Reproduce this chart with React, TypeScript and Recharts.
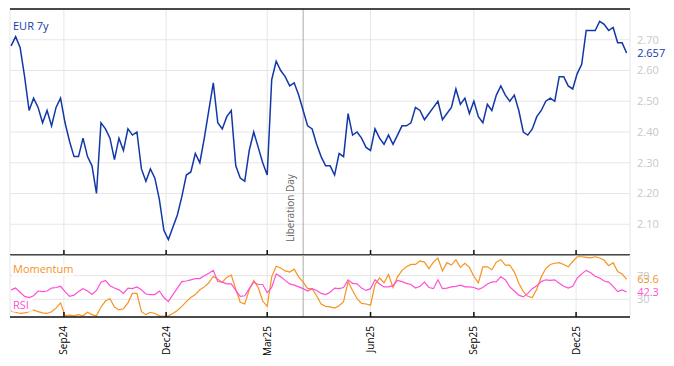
import React from "react"
import { LineChart, Line, XAxis, YAxis, CartesianGrid, ReferenceLine, ReferenceDot } from "recharts"

const FONT = '"Open Sans", sans-serif'
const BLUE = "#1238a8"
const ORANGE = "#f7931e"
const PINK = "#ff4fd8"
const GRID = "#e6e6e6"
const TICK_GREY = "#c8c8c8"
const FRAME = "#101010"
const FRAME_W = 1.5

// dates
const startDate = "2024-07-15"
const endDate = "2026-01-18"
const firstDay = 1
const stepDays = 4
const monthTickDates = ["2024-09-01", "2024-12-01", "2025-03-01", "2025-06-01", "2025-09-01", "2025-12-01"]
const monthLabels = ["Sep24", "Dec24", "Mar25", "Jun25", "Sep25", "Dec25"]
const eventDate = "2025-04-02"
const eventLabel = "Liberation Day"

// EUR 7y swap rate, one point every 4 days
const eur7y = [
  2.68, 2.71, 2.675, 2.58, 2.47, 2.51, 2.48, 2.43, 2.47, 2.42,
  2.48, 2.51, 2.43, 2.37, 2.32, 2.32, 2.38, 2.32, 2.29, 2.2,
  2.43, 2.41, 2.38, 2.31, 2.38, 2.34, 2.41, 2.39, 2.4, 2.28,
  2.24, 2.28, 2.25, 2.18, 2.08, 2.05, 2.09, 2.13, 2.19, 2.26,
  2.27, 2.33, 2.3, 2.38, 2.47, 2.56, 2.43, 2.41, 2.45, 2.47,
  2.29, 2.25, 2.24, 2.34, 2.4, 2.35, 2.3, 2.26, 2.57, 2.63,
  2.6, 2.58, 2.55, 2.56, 2.52, 2.47, 2.42, 2.41, 2.36, 2.32,
  2.29, 2.29, 2.26, 2.33, 2.32, 2.46, 2.39, 2.4, 2.38, 2.35,
  2.34, 2.41, 2.38, 2.36, 2.39, 2.36, 2.39, 2.42, 2.42, 2.43,
  2.48, 2.47, 2.44, 2.46, 2.48, 2.5, 2.44, 2.46, 2.48, 2.54,
  2.49, 2.51, 2.46, 2.5, 2.45, 2.43, 2.49, 2.47, 2.52, 2.55,
  2.52, 2.5, 2.52, 2.47, 2.4, 2.39, 2.41, 2.45, 2.47, 2.5,
  2.51, 2.5, 2.58, 2.58, 2.55, 2.54, 2.59, 2.62, 2.73, 2.73,
  2.73, 2.76, 2.75, 2.73, 2.74, 2.69, 2.69, 2.657,
]

const momentum = [
  10, 8, 6, 7, 9, 12, 9, 7, 6, 9,
  15, 24, 2, 3, 2, 4, 2, 8, 4, 2,
  17, 27, 31, 17, 12, 14, 24, 40, 40, 9,
  4, 8, 6, 2, 1, 2, 6, 11, 18, 26,
  33, 38, 46, 51, 58, 69, 64, 59, 67, 71,
  47, 25, 22, 46, 62, 50, 27, 18, 68, 86,
  83, 78, 76, 81, 68, 59, 48, 48, 36, 22,
  18, 17, 15, 19, 26, 60, 45, 31, 23, 22,
  20, 55, 66, 58, 72, 50, 68, 79, 85, 89,
  89, 95, 93, 82, 93, 100, 78, 92, 88, 97,
  84, 91, 84, 69, 58, 85, 85, 80, 93, 97,
  88, 88, 76, 57, 43, 35, 33, 47, 68, 82,
  89, 91, 92, 89, 85, 94, 102, 102, 101, 100,
  102, 100, 96, 87, 92, 77, 73, 63.6,
]

const rsi = [
  46, 49, 42, 35, 33, 36, 44, 43, 44, 49,
  50, 52, 43, 35, 37, 43, 48, 44, 38, 45,
  59, 62, 53, 49, 46, 40, 49, 48, 51, 46,
  39, 38, 38, 44, 33, 26, 38, 49, 60, 61,
  63, 65, 65, 70, 74, 79, 60, 59, 56, 56,
  45, 35, 36, 48, 59, 55, 55, 41, 50, 73,
  68, 62, 56, 54, 51, 48, 44, 48, 45, 40,
  38, 42, 49, 48, 50, 63, 57, 56, 49, 45,
  48, 63, 56, 51, 51, 53, 62, 60, 57, 55,
  49, 52, 59, 50, 48, 63, 48, 49, 51, 52,
  54, 51, 51, 50, 47, 50, 56, 59, 60, 68,
  63, 51, 44, 37, 34, 40, 48, 53, 60, 63,
  62, 63, 57, 52, 49, 52, 66, 73, 79, 75,
  69, 66, 61, 59, 52, 43, 46, 42.3,
]

const rateTicks = [2.1, 2.2, 2.3, 2.4, 2.5, 2.6, 2.7]
const oscTicks = [30, 70]

const dayOf = (d: string) => Math.round((Date.parse(d) - Date.parse(startDate)) / 86400000)
const monthTicks = monthTickDates.map(dayOf)
const eventDay = dayOf(eventDate)
const lastDay = dayOf(endDate)

const data = eur7y.map((v, i) => ({
  t: firstDay + stepDays * i,
  eur: v,
  mom: momentum[i],
  rsi: rsi[i],
}))
const last = data[data.length - 1]

const W = 658
const PLOT_LEFT = 2

// small tick marks pointing up into the panel
function TopTick({ x, y }: any) {
  return <line x1={x} x2={x} y1={y} y2={y - 5} stroke={FRAME} strokeWidth={FRAME_W} />
}

// empty tick, the frame axis only needs its line
function NoTick() {
  return <g />
}

function BottomTick({ x, y, payload }: any) {
  const label = monthLabels[monthTicks.indexOf(payload.value)]
  const ty = y + 9
  return (
    <g>
      <line x1={x} x2={x} y1={y} y2={y - 5} stroke={FRAME} strokeWidth={FRAME_W} />
      <text
        x={x}
        y={ty}
        dy="0.35em"
        transform={`rotate(-90 ${x} ${ty})`}
        textAnchor="end"
        fontSize={10}
        fontFamily={FONT}
        fill="#000"
      >
        {label}
      </text>
    </g>
  )
}

function EventLabel({ viewBox }: any) {
  const x = viewBox.x - 9
  const y = viewBox.y + viewBox.height - 13
  return (
    <text x={x} y={y} transform={`rotate(-90 ${x} ${y})`} fontSize={10} fontFamily={FONT} fill="#666">
      {eventLabel}
    </text>
  )
}

function ValueTag({ viewBox, text, color }: any) {
  const x = viewBox.x + viewBox.width + 10.5
  const y = viewBox.y + viewBox.height / 2
  return (
    <g>
      <rect x={x - 1} y={y - 6} width={text.length * 6.3 + 2} height={12} fill="#fff" fillOpacity={0.8} />
      <text x={x} y={y} dy="0.35em" fontSize={11} fontFamily={FONT} fill={color}>
        {text}
      </text>
    </g>
  )
}

export default function App() {
  return (
    <div style={{ position: "relative", width: W, height: 356, fontFamily: FONT }}>
      <div style={{ position: "absolute", left: 0, top: 0 }}>
        <LineChart width={W} height={248} data={data} margin={{ top: 0, right: 0, bottom: 0, left: PLOT_LEFT }}>
          <CartesianGrid stroke={GRID} />
          <XAxis
            dataKey="t"
            type="number"
            domain={[0, lastDay]}
            ticks={monthTicks}
            interval={0}
            height={1}
            tickSize={0}
            tickMargin={0}
            tick={<TopTick />}
            axisLine={{ stroke: FRAME, strokeWidth: FRAME_W }}
            allowDataOverflow
          />
          <XAxis
            xAxisId="frame"
            orientation="top"
            dataKey="t"
            type="number"
            domain={[0, lastDay]}
            ticks={monthTicks}
            interval={0}
            height={1}
            tickSize={0}
            tickMargin={0}
            tick={<NoTick />}
            axisLine={{ stroke: FRAME, strokeWidth: FRAME_W }}
            allowDataOverflow
          />
          <YAxis
            orientation="right"
            width={36}
            domain={[2.0, 2.8]}
            ticks={rateTicks}
            tickFormatter={(v: number) => v.toFixed(2)}
            tick={{ fill: TICK_GREY, fontSize: 11, fontFamily: FONT }}
            tickLine={false}
            axisLine={false}
            tickSize={0}
            tickMargin={7}
            allowDataOverflow
          />
          <ReferenceLine x={eventDay} stroke="#aaa" label={<EventLabel />} />
          <Line
            dataKey="eur"
            stroke={BLUE}
            strokeWidth={1.5}
            dot={false}
            isAnimationActive={false}
          />
          <ReferenceDot
            x={last.t}
            y={last.eur}
            r={0}
            fill="none"
            stroke="none"
            label={<ValueTag text={last.eur.toFixed(3)} color={BLUE} />}
          />
        </LineChart>
      </div>
      <div style={{ position: "absolute", left: 0, top: 247 }}>
        <LineChart width={W} height={107} data={data} margin={{ top: 0, right: 0, bottom: 0, left: PLOT_LEFT }}>
          <CartesianGrid stroke={GRID} />
          <XAxis
            dataKey="t"
            type="number"
            domain={[0, lastDay]}
            ticks={monthTicks}
            interval={0}
            height={45}
            tickSize={0}
            tickMargin={0}
            tick={<BottomTick />}
            axisLine={{ stroke: FRAME, strokeWidth: FRAME_W }}
            allowDataOverflow
          />
          <YAxis
            orientation="right"
            width={36}
            domain={[0, 105]}
            ticks={oscTicks}
            tick={{ fill: TICK_GREY, fontSize: 11, fontFamily: FONT }}
            tickLine={false}
            axisLine={false}
            tickSize={0}
            tickMargin={7}
            allowDataOverflow
          />
          <ReferenceLine x={eventDay} stroke="#aaa" />
          <Line dataKey="mom" stroke={ORANGE} strokeWidth={1.2} dot={false} isAnimationActive={false} />
          <Line dataKey="rsi" stroke={PINK} strokeWidth={1.2} dot={false} isAnimationActive={false} />
          <ReferenceDot
            x={last.t}
            y={last.mom}
            r={0}
            fill="none"
            stroke="none"
            label={<ValueTag text={last.mom.toFixed(1)} color={ORANGE} />}
          />
          <ReferenceDot
            x={last.t}
            y={last.rsi}
            r={0}
            fill="none"
            stroke="none"
            label={<ValueTag text={last.rsi.toFixed(1)} color={PINK} />}
          />
        </LineChart>
      </div>
      <svg width={W} height={356} style={{ position: "absolute", left: 0, top: 0, pointerEvents: "none" }}>
        <text x={5} y={21.5} fontSize={11} fontFamily={FONT} fill={BLUE}>
          EUR 7y
        </text>
        <rect x={4} y={255} width={62} height={13} fill="#fff" fillOpacity={0.7} />
        <text x={5} y={265} fontSize={11} fontFamily={FONT} fill={ORANGE}>
          Momentum
        </text>
        <rect x={4} y={291} width={21} height={13} fill="#fff" fillOpacity={0.7} />
        <text x={5} y={301} fontSize={11} fontFamily={FONT} fill={PINK}>
          RSI
        </text>
      </svg>
    </div>
  )
}
